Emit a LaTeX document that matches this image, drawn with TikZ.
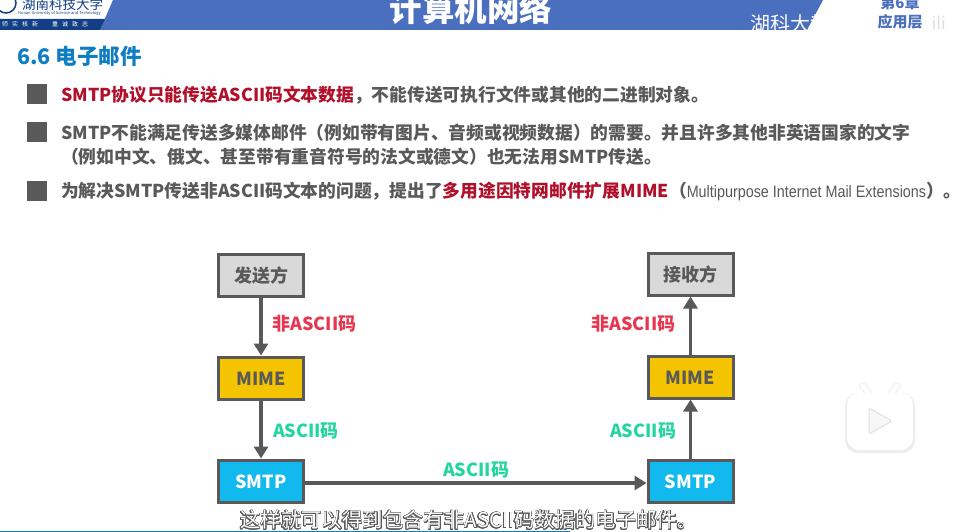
\documentclass[tikz,border=0pt]{standalone}
\usepackage{fontspec}
\usepackage{contour}
\usetikzlibrary{calc}
\usetikzlibrary{arrows.meta}
\setmainfont{Noto Sans CJK SC}
\newfontfamily\arialfont[FakeStretch=0.87]{Liberation Sans}
\definecolor{bandblue}{HTML}{4A6FBE}
\definecolor{navyblue}{HTML}{123F86}
\definecolor{headblue}{HTML}{0F7DC2}
\definecolor{darkred}{HTML}{B0102A}
\definecolor{textgray}{HTML}{595959}
\definecolor{labelred}{HTML}{E8364F}
\definecolor{labelgreen}{HTML}{23D6A0}
\definecolor{boxgray}{HTML}{D9D9D9}
\definecolor{boxyellow}{HTML}{F5C400}
\definecolor{boxblue}{HTML}{12B9EE}
\newcommand{\redbf}[1]{\textcolor{darkred}{\bfseries #1}}
\contourlength{0.55pt}
\contournumber{24}
\begin{document}
\begin{tikzpicture}[x=1pt,y=-1pt,inner sep=0pt,
  box/.style={draw=textgray,line width=3pt,minimum width=85pt,minimum height=42pt,text height=15.5pt,text depth=0pt,text=textgray,font=\fontsize{18}{18}\selectfont\bfseries},
  textline/.style={anchor=west,text=textgray,font=\fontsize{17.75}{17.75}\selectfont\bfseries},
  tagline/.style={font=\fontsize{18}{18}\selectfont\bfseries},
  bullet/.style={fill=textgray,minimum size=19.5pt},
  flow/.style={draw=textgray,line width=3.5pt,-{Triangle[length=12pt,width=14pt]}}]
\clip (0,0) rectangle (961,532);
\fill[white] (0,0) rectangle (961,532);

\fill[bandblue] (113,0) -- (823,0) -- (807,30) -- (100,30) -- cycle;
\fill[navyblue] (0,19) -- (105,19) -- (100,30) -- (0,30) -- cycle;
\draw[navyblue,line width=1.5pt] (6,3) circle (10);
\node[text=navyblue,anchor=west,font=\fontsize{13.5}{13.5}\selectfont] (logo) at (22,4) {湖南科技大学};
\node[text=navyblue,anchor=west,font=\fontsize{4}{4}\selectfont] (logoen) at (18,13) {Hunan University of Science and Technology};
\node[text=white,anchor=west,font=\fontsize{6}{6}\selectfont] (motto) at (2,24.5) {师\hspace{4pt}实\hspace{4pt}核\hspace{4pt}新\hspace{14pt}重\hspace{4pt}诚\hspace{4pt}致\hspace{4pt}志};
\node[text=white,font=\fontsize{32.5}{32.5}\selectfont\bfseries] (title) at (471,9) {计算机网络};
\node[text=white,anchor=west,font=\fontsize{20}{20}\selectfont] (mark) at (750,24) {湖科大教书匠};
\node[text=bandblue,font=\fontsize{15}{15}\selectfont\bfseries] (chap) at (900,3) {第6章};
\node[text=bandblue,font=\fontsize{15}{15}\selectfont\bfseries] (layer) at (900,22) {应用层};
\node[text=black!12,anchor=east,font=\fontsize{17}{17}\selectfont] (site) at (946,23) {ili};

\node[text=headblue,anchor=west,font=\fontsize{21.5}{21.5}\selectfont\bfseries] (head) at (17,56) {6.6 电子邮件};
\node[bullet] (b1) at (37,94) {};
\node[bullet] (b2) at (37,132) {};
\node[bullet] (b3) at (37,191) {};
\node[textline] (t1) at (61,95) {\redbf{SMTP协议只能传送ASCII码文本数据}，不能传送可执行文件或其他的二进制对象。};
\node[textline] (t2) at (61,132.5) {SMTP不能满足传送多媒体邮件（例如带有图片、音频或视频数据）的需要。并且许多其他非英语国家的文字};
\node[textline] (t3) at (61,157) {（例如中文、俄文、甚至带有重音符号的法文或德文）也无法用SMTP传送。};
\node[textline] (t4) at (61,191) {为解决SMTP传送非ASCII码文本的问题，提出了\redbf{多用途因特网邮件扩展MIME}（{\arialfont\mdseries\fontsize{16.5}{16.5}\selectfont Multipurpose Internet Mail Extensions}）。};

\node[box,fill=boxgray] (a1) at (261,275) {发送方};
\node[box,fill=boxyellow] (a2) at (261,378) {MIME};
\node[box,fill=boxblue,text=white] (a3) at (261,481) {SMTP};
\node[box,fill=boxgray] (c1) at (690.5,274) {接收方};
\node[box,fill=boxyellow] (c2) at (690.5,377) {MIME};
\node[box,fill=boxblue,text=white] (c3) at (690.5,481) {SMTP};

\draw[flow] (a1) -- (a2);
\draw[flow] (a2) -- (a3);
\draw[flow] ([yshift=-2pt]a3.east) -- ([yshift=-2pt]c3.west);
\draw[flow] (c3) -- (c2);
\draw[flow] (c2) -- (c1);

\node[tagline,text=labelred] (l1) at ($(a1) + (53.5, 49)$) {非ASCII码};
\node[tagline,text=labelgreen] (l2) at ($(a2) + (45, 53)$) {ASCII码};
\node[tagline,text=labelgreen] (l3) at ($(a3) + (215, -11.5)$) {ASCII码};
\node[tagline,text=labelred] (l4) at ($(c1) + (-57, 50)$) {非ASCII码};
\node[tagline,text=labelgreen] (l5) at ($(c2) + (-47.5, 54)$) {ASCII码};

\fill[black!7,rounded corners=13pt] (845,393) rectangle (915,453);
\draw[black!7,line width=7pt,line cap=round] (869,394) -- (863,386);
\draw[black!7,line width=7pt,line cap=round] (891,394) -- (897,386);
\draw[white,line width=5pt,line cap=round] (869,394) -- (863,386);
\draw[white,line width=5pt,line cap=round] (891,394) -- (897,386);
\fill[white,rounded corners=12pt] (847,393) rectangle (913,450);
\draw[black!12,fill=black!3,line width=1pt,rounded corners=2pt] (869,408) -- (892,421) -- (869,434) -- cycle;

\fill[headblue] (0,530.5) rectangle (570,532);
\node[text=white,font=\fontsize{20.4}{20.4}\selectfont] (subtitle) at (469,520.5) {\contour{textgray}{这样就可以得到包含有非ASCII码数据的电子邮件。}};
\end{tikzpicture}
\end{document}
